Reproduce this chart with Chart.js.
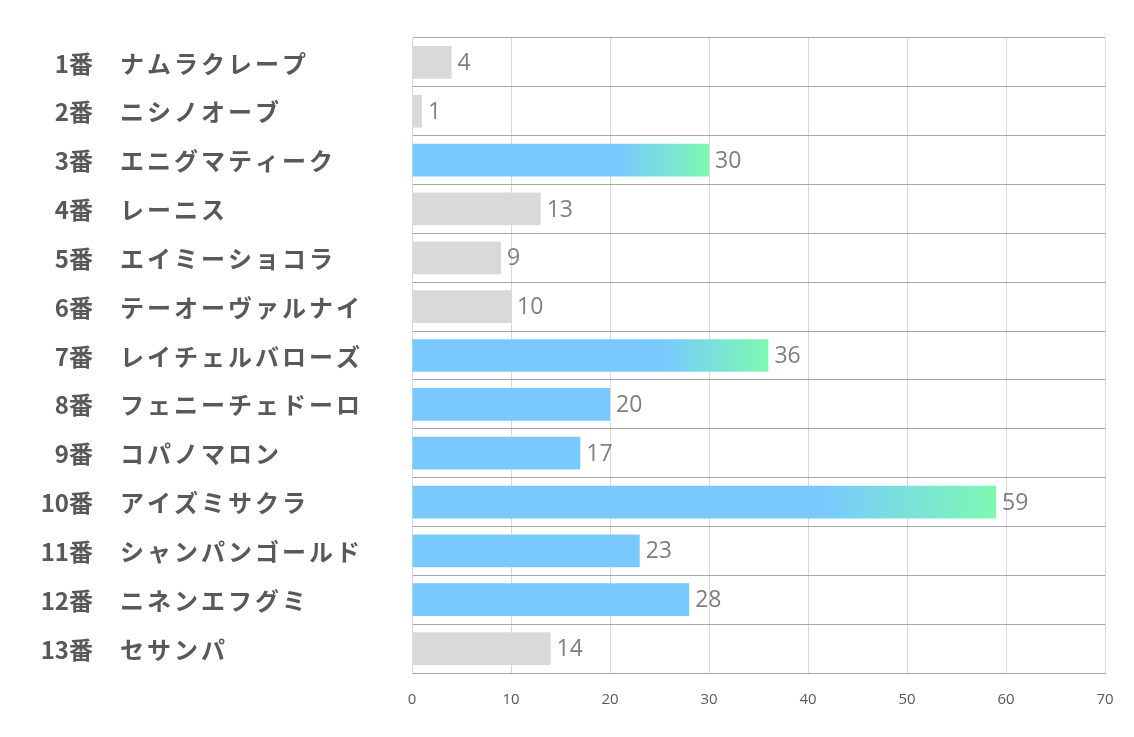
<!DOCTYPE html>
<html>
<head>
<meta charset="utf-8">
<script src="https://cdn.jsdelivr.net/npm/chart.js@4"></script>
<style>
  html, body { margin: 0; padding: 0; background: #fff; }
  #wrap { width: 1134px; height: 737px; }
</style>
</head>
<body>
<div id="wrap"><canvas id="myChart" width="1134" height="737"></canvas></div>
<script>
// 데이터
var umaban = ['1番', '2番', '3番', '4番', '5番', '6番', '7番', '8番', '9番', '10番', '11番', '12番', '13番'];
var names = ['ナムラクレープ', 'ニシノオーブ', 'エニグマティーク', 'レーニス', 'エイミーショコラ', 'テーオーヴァルナイ',
    'レイチェルバローズ', 'フェニーチェドーロ', 'コパノマロン', 'アイズミサクラ', 'シャンパンゴールド', 'ニネンエフグミ', 'セサンパ'];
var points = [4, 1, 30, 13, 9, 10, 36, 20, 17, 59, 23, 28, 14];
// 0 = 회색, 1 = 파랑, 2 = 그라데이션
var kinds = [0, 0, 2, 0, 0, 0, 2, 1, 1, 2, 1, 1, 0];
var xTicks = [0, 10, 20, 30, 40, 50, 60, 70];

var GRAY = '#d9d9d9';
var BLUE = '#79c9ff';
var GREEN = '#7cf9b2';

function barColor(ctx) {
    var i = ctx.dataIndex;
    var k = kinds[i];
    if (k === 0) return GRAY;
    if (k === 1) return BLUE;
    var chart = ctx.chart;
    if (!chart.chartArea) return BLUE;
    var x = chart.scales.x;
    var x0 = x.getPixelForValue(0);
    var x1 = x.getPixelForValue(points[i]);
    var g = chart.ctx.createLinearGradient(x0, 0, x1, 0);
    g.addColorStop(0, BLUE);
    g.addColorStop(0.7, BLUE);
    g.addColorStop(1, GREEN);
    return g;
}

// 왼쪽 라벨 (번호 + 이름)
var sideLabels = {
    id: 'sideLabels',
    afterDraw: function (chart) {
        var c = chart.ctx;
        var y = chart.scales.y;
        c.save();
        c.fillStyle = '#595959';
        c.textBaseline = 'middle';
        c.font = 'bold 24px "Noto Sans CJK JP"';
        for (var i = 0; i < names.length; i++) {
            var py = y.getPixelForValue(i) + 1;
            c.letterSpacing = '0px';
            c.textAlign = 'right';
            c.fillText(umaban[i], 93, py);
            c.letterSpacing = '3px';
            c.textAlign = 'left';
            c.fillText(names[i], 120, py);
        }
        c.restore();
    }
};

// 막대 끝 값 표시
var valueLabels = {
    id: 'valueLabels',
    afterDatasetsDraw: function (chart) {
        var c = chart.ctx;
        var meta = chart.getDatasetMeta(0);
        c.save();
        c.fillStyle = '#7f7f7f';
        c.textBaseline = 'middle';
        c.textAlign = 'left';
        c.font = '23px "Open Sans"';
        meta.data.forEach(function (bar, i) {
            c.fillText(String(points[i]), bar.x + 6, bar.y + 1);
        });
        c.restore();
    }
};

new Chart(document.getElementById('myChart').getContext('2d'), {
    type: 'bar',
    data: {
        labels: names,
        datasets: [{
            data: points,
            backgroundColor: barColor,
            borderWidth: 0,
            barPercentage: 0.67,
            categoryPercentage: 1.0
        }]
    },
    options: {
        indexAxis: 'y',
        responsive: false,
        animation: false,
        layout: { padding: { left: 412, right: 29, top: 38, bottom: 10 } },
        plugins: {
            legend: { display: false },
            tooltip: { enabled: false }
        },
        scales: {
            x: {
                min: 0,
                max: 70,
                afterBuildTicks: function (axis) {
                    axis.ticks = xTicks.map(function (v) { return { value: v }; });
                },
                grid: { color: '#d9d9d9', lineWidth: 1, drawTicks: false },
                border: { display: true, color: '#a6a6a6' },
                ticks: {
                    color: '#595959',
                    font: { family: '"Open Sans"', size: 15 },
                    padding: 18,
                    maxRotation: 0
                }
            },
            y: {
                grid: { color: '#a6a6a6', lineWidth: 1, drawTicks: false, offset: true },
                border: { display: true, color: '#d9d9d9' },
                ticks: { display: false }
            }
        }
    },
    plugins: [sideLabels, valueLabels]
});
</script>
</body>
</html>
